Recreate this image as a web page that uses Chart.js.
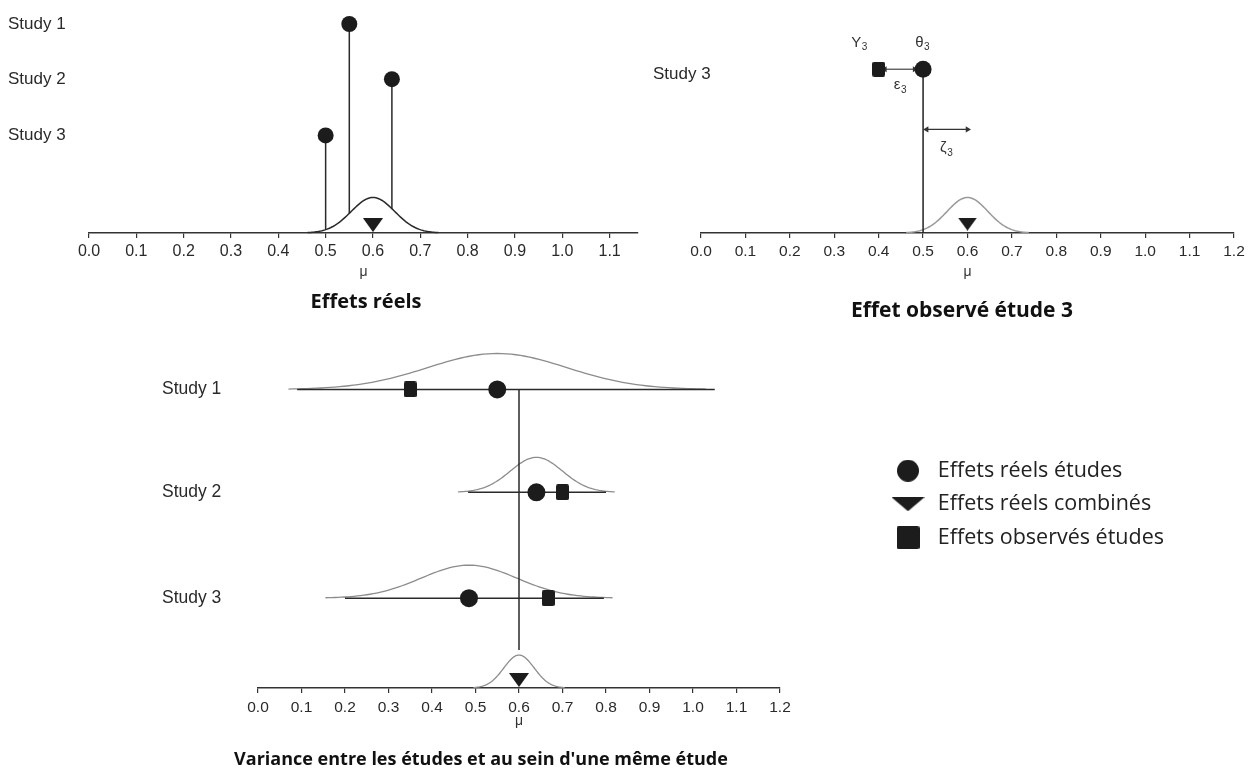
<!DOCTYPE html>
<html><head><meta charset="utf-8">
<script src="https://cdn.jsdelivr.net/npm/chart.js@4.4.1/dist/chart.umd.min.js"></script>
<style>
html,body{margin:0;padding:0;background:#fff;width:1252px;height:769px;overflow:hidden;}
canvas{position:absolute;}
</style></head><body>
<canvas id="pA" width="660" height="320" style="left:0px;top:0px"></canvas>
<canvas id="pB" width="612" height="320" style="left:640px;top:0px"></canvas>
<canvas id="pC" width="660" height="439" style="left:150px;top:330px"></canvas>
<canvas id="pD" width="375" height="260" style="left:877px;top:448px"></canvas>
<script>
// ---------------- DATA ----------------
const studies = ['Study 1', 'Study 2', 'Study 3'];
const muTicksA = [0.0, 0.1, 0.2, 0.3, 0.4, 0.5, 0.6, 0.7, 0.8, 0.9, 1.0, 1.1];
const muTicks = [0.0, 0.1, 0.2, 0.3, 0.4, 0.5, 0.6, 0.7, 0.8, 0.9, 1.0, 1.1, 1.2];
const combinedMean = 0.60;          // μ
const betweenSD = 0.046;            // spread of true effects (panels A, B)
const trueEffects = [0.55, 0.64, 0.50];       // θ1..θ3 (panel A)
const study3True = 0.50;            // θ3 (panel B)
const study3Observed = 0.40;        // Y3 (panel B)
const trueEffectsC = [0.55, 0.64, 0.485];     // panel C circles
const observedEffectsC = [0.35, 0.70, 0.667]; // panel C squares
const withinSD = [0.16, 0.06, 0.11];          // within-study spread
const ciLow = [0.09, 0.483, 0.20];
const ciHigh = [1.05, 0.80, 0.795];
const combinedSDC = 0.035;
const legendLabels = ['Effets réels études', 'Effets réels combinés', 'Effets observés études'];
const panelTitles = ['Effets réels', 'Effet observé étude 3', "Variance entre les études et au sein d'une même étude"];

// ---------------- STYLE / LAYOUT ----------------
const INK = '#1c1c1c', AX = '#333', GREY = '#9a9a9a';
const TXT = '"Liberation Sans", Arial, sans-serif';
const TTL = '"Open Sans", sans-serif';

function marker(kind, w, h) {
  const c = document.createElement('canvas'); c.width = w; c.height = h;
  const g = c.getContext('2d'); g.fillStyle = INK; g.beginPath();
  if (kind === 'tri') { g.moveTo(0, 0); g.lineTo(w, 0); g.lineTo(w / 2, h); g.closePath(); }
  else if (kind === 'sq') { g.roundRect(0, 0, w, h, 2); }
  else { g.arc(w / 2, h / 2, w / 2, 0, Math.PI * 2); }
  g.fill(); return c;
}
function density(mean, sd, peak, base) {
  const pts = [], n = 90, lo = mean - 3 * sd, hi = mean + 3 * sd;
  for (let i = 0; i <= n; i++) { const x = lo + (hi - lo) * i / n; pts.push({x, y: base + peak * Math.exp(-0.5 * ((x - mean) / sd) ** 2)}); }
  return pts;
}
function heightAt(mean, sd, peak, x) { return peak * Math.exp(-0.5 * ((x - mean) / sd) ** 2); }
function segs(list) { const out = []; list.forEach((s, i) => { if (i) out.push({x: s[0].x, y: null}); out.push(...s); }); return out; }

function xAxis(maxV, tickVals, axisH, tickPad, muPad, fs) {
  return {
    type: 'linear', min: 0, max: maxV, position: 'bottom',
    afterBuildTicks: s => { s.ticks = tickVals.map(v => ({value: v})); },
    afterFit: s => { s.height = axisH; },
    grid: {display: true, drawOnChartArea: false, drawTicks: true, tickLength: 5, color: AX, lineWidth: 1.2},
    border: {display: true, color: AX, width: 1.5},
    ticks: {autoSkip: false, maxRotation: 0, padding: tickPad, color: '#2a2a2a', font: {family: TXT, size: fs}, callback: v => Number(v).toFixed(1)},
    title: {display: true, text: 'μ', color: '#333', font: {family: TXT, size: 14}, padding: {top: 0, bottom: muPad}}
  };
}
function yAxis(maxV, rowVals, names, width, fs, showLabels) {
  return {
    type: 'linear', min: 0, max: maxV, position: 'left',
    afterBuildTicks: s => { s.ticks = rowVals.map(v => ({value: v})); },
    afterFit: s => { s.width = width; },
    grid: {display: false}, border: {display: false},
    ticks: {display: showLabels, autoSkip: false, crossAlign: 'far', padding: 0, color: '#2a2a2a', font: {family: TXT, size: fs}, callback: (v, i) => names[i]}
  };
}
// free texts: sub-scripted symbols, row labels drawn outside the axis box, and panel titles
function textPlugin(items, title, rowLabels) {
  return {id: 'texts', afterDraw(chart) {
    const {ctx, scales: {x, y}} = chart; ctx.save(); ctx.textBaseline = 'middle'; ctx.fillStyle = '#333';
    for (const it of items) {
      const px = x.getPixelForValue(it.x), py = y.getPixelForValue(it.y);
      ctx.font = '15px ' + TXT; const w1 = ctx.measureText(it.main).width;
      ctx.font = '10px ' + TXT; const w2 = ctx.measureText(it.sub).width;
      const left = px - (w1 + w2) / 2; ctx.textAlign = 'left';
      ctx.font = '15px ' + TXT; ctx.fillText(it.main, left, py);
      ctx.font = '10px ' + TXT; ctx.fillText(it.sub, left + w1 + 0.5, py + 5);
    }
    if (rowLabels) {
      ctx.fillStyle = '#2a2a2a'; ctx.textAlign = 'left'; ctx.font = rowLabels.size + 'px ' + TXT;
      rowLabels.names.forEach((n, i) => ctx.fillText(n, rowLabels.x, y.getPixelForValue(rowLabels.rows[i]) + rowLabels.dy));
    }
    if (title) { ctx.fillStyle = '#111'; ctx.textAlign = 'center'; ctx.font = 'bold ' + title.size + 'px ' + TTL; ctx.fillText(title.text, title.cx, title.cy); }
    ctx.restore();
  }};
}
const base = {responsive: false, animation: false, events: [], plugins: {legend: {display: false}, tooltip: {enabled: false}}};
function ds(o) { return Object.assign({clip: false, pointBorderWidth: 0}, o); }
function lineDs(data, color, width) { return ds({data, showLine: true, borderColor: color, borderWidth: width, pointRadius: 0, spanGaps: false}); }

// ---------------- PANEL A ----------------
const rowsA = [212, 156, 99], peakA = 36;
new Chart(document.getElementById('pA'), {
  type: 'scatter',
  data: {datasets: [
    ds({data: [{x: combinedMean, y: 8}], pointStyle: marker('tri', 20, 14), pointRadius: 10}),
    ds({data: trueEffects.map((v, i) => ({x: v, y: rowsA[i]})), pointStyle: 'circle', pointRadius: 8, pointBackgroundColor: INK}),
    lineDs(segs(trueEffects.map((v, i) => [{x: v, y: rowsA[i]}, {x: v, y: heightAt(combinedMean, betweenSD, peakA, v)}])), '#2a2a2a', 1.5),
    lineDs(density(combinedMean, betweenSD, peakA, 0), '#2a2a2a', 1.5)
  ]},
  options: Object.assign({}, base, {
    layout: {padding: {left: 8, right: 22, top: 7, bottom: 37}},
    scales: {x: xAxis(1.16, muTicksA, 50, 4, 2, 16), y: yAxis(226, rowsA, studies, 81, 17, true)}
  }),
  plugins: [textPlugin([], {text: panelTitles[0], cx: 366, cy: 302, size: 20})]
});

// ---------------- PANEL B ----------------
const rowB = 166, zetaRow = 105, peakB = 36;
new Chart(document.getElementById('pB'), {
  type: 'scatter',
  data: {datasets: [
    ds({data: [{x: study3Observed, y: rowB}], pointStyle: marker('sq', 13, 15), pointRadius: 8}),
    ds({data: [{x: study3True, y: rowB}], pointStyle: 'circle', pointRadius: 8.5, pointBackgroundColor: INK}),
    ds({data: [{x: combinedMean, y: 9}], pointStyle: marker('tri', 19, 13), pointRadius: 10}),
    ds({data: [{x: study3Observed + 0.014, y: rowB}, {x: study3True - 0.019, y: rowB}], showLine: true, borderColor: '#333', borderWidth: 1.1,
        pointStyle: 'triangle', pointRotation: [-90, 90], pointRadius: 3.5, pointBackgroundColor: '#333'}),
    ds({data: [{x: study3True + 0.008, y: zetaRow}, {x: combinedMean, y: zetaRow}], showLine: true, borderColor: '#333', borderWidth: 1.1,
        pointStyle: 'triangle', pointRotation: [-90, 90], pointRadius: 3.5, pointBackgroundColor: '#333'}),
    lineDs([{x: study3True, y: rowB}, {x: study3True, y: 0}], '#222', 1.5),
    lineDs(density(combinedMean, betweenSD, peakB, 0), GREY, 1.5)
  ]},
  options: Object.assign({}, base, {
    layout: {padding: {left: 13, right: 18, top: 7, bottom: 37}},
    scales: {x: xAxis(1.2, muTicks, 50, 4, 2, 15.5), y: yAxis(226, [rowB], ['Study 3'], 48, 17, false)}
  }),
  plugins: [textPlugin([
    {main: 'Y', sub: '3', x: 0.356, y: 193},
    {main: 'θ', sub: '3', x: 0.498, y: 193},
    {main: 'ε', sub: '3', x: 0.448, y: 150},
    {main: 'ζ', sub: '3', x: 0.552, y: 86}
  ], {text: panelTitles[1], cx: 322, cy: 311, size: 21}, {names: ['Study 3'], rows: [rowB], x: 13, dy: 5, size: 17})]
});

// ---------------- PANEL C ----------------
const rowsC = [299, 196, 90], peaksC = [36, 35, 33], peakComb = 33;
new Chart(document.getElementById('pC'), {
  type: 'scatter',
  data: {datasets: [
    ds({data: trueEffectsC.map((v, i) => ({x: v, y: rowsC[i]})), pointStyle: 'circle', pointRadius: 9, pointBackgroundColor: INK}),
    ds({data: observedEffectsC.map((v, i) => ({x: v, y: rowsC[i]})), pointStyle: marker('sq', 13, 16), pointRadius: 8}),
    ds({data: [{x: combinedMean, y: 8}], pointStyle: marker('tri', 20, 14), pointRadius: 10}),
    lineDs(segs(ciLow.map((lo, i) => [{x: lo, y: rowsC[i]}, {x: ciHigh[i], y: rowsC[i]}])), '#2a2a2a', 1.5),
    lineDs([{x: combinedMean, y: rowsC[0]}, {x: combinedMean, y: 38}], '#2a2a2a', 1.5),
    lineDs(segs(trueEffectsC.map((m, i) => density(m, withinSD[i], peaksC[i], rowsC[i]))), '#8c8c8c', 1.3),
    lineDs(density(combinedMean, combinedSDC, peakComb, 0), '#8c8c8c', 1.3)
  ]},
  options: Object.assign({}, base, {
    layout: {padding: {left: 12, right: 30, top: 10, bottom: 37}},
    scales: {x: xAxis(1.2, muTicks, 44, 5, 2, 15.5), y: yAxis(348, rowsC, studies, 96, 17.5, true)}
  }),
  plugins: [textPlugin([], {text: panelTitles[2], cx: 331, cy: 430, size: 18})]
});

// ---------------- LEGEND ----------------
const legendMarkers = [marker('dot', 22, 22), marker('tri', 33, 14), marker('sq', 23, 23)];
new Chart(document.getElementById('pD'), {
  type: 'scatter',
  data: {datasets: legendLabels.map((l, i) => ({label: l, data: [], pointStyle: legendMarkers[i]}))},
  options: {
    responsive: false, animation: false, events: [],
    layout: {padding: 0},
    scales: {x: {display: false}, y: {display: false}},
    plugins: {
      tooltip: {enabled: false},
      legend: {display: true, position: 'top', align: 'start', maxHeight: 180,
        labels: {usePointStyle: true, pointStyleWidth: 38, padding: 12, color: '#222', font: {family: TTL, size: 21.5},
          generateLabels: chart => chart.data.datasets.map((d, i) => ({text: d.label, pointStyle: d.pointStyle, fillStyle: INK, strokeStyle: INK, lineWidth: 0, hidden: false, datasetIndex: i, fontColor: '#222'}))}
      }
    }
  }
});
</script>
</body></html>
